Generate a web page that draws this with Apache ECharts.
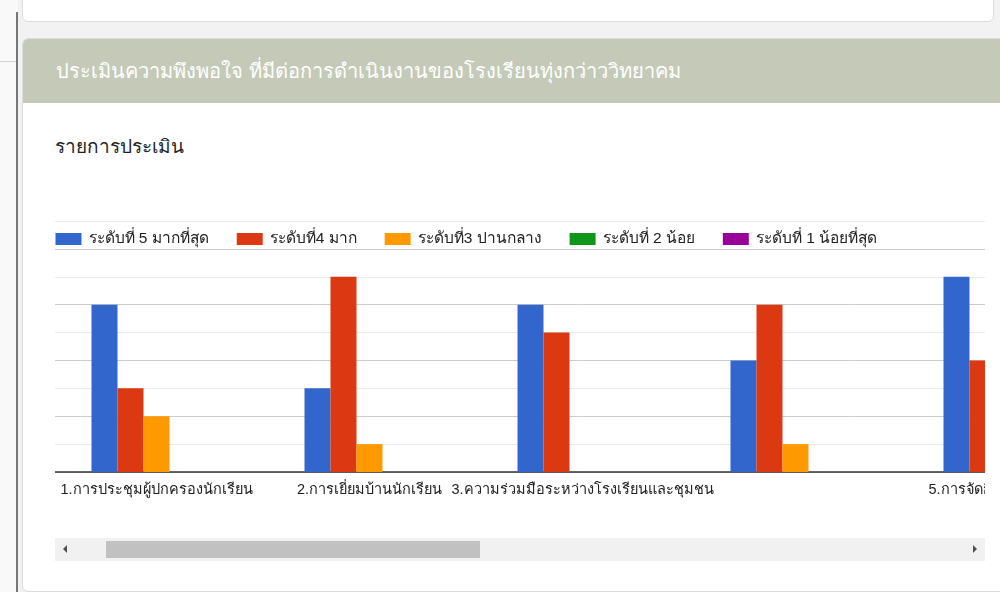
<!DOCTYPE html>
<html>
<head>
<meta charset="utf-8">
<script src="https://cdn.jsdelivr.net/npm/echarts@6/dist/echarts.min.js"></script>
<style>
  html, body { margin: 0; padding: 0; width: 1000px; height: 592px; overflow: hidden; background: #f9f9f9; font-family: Tahoma, Arial, sans-serif; }
  .vline { position: absolute; left: 16px; top: 12px; width: 2px; height: 580px; background: #777; }
  .hline { position: absolute; left: 0; top: 61px; width: 16px; height: 1px; background: #d0d0d0; }
  .bg { position: absolute; left: 18px; top: 0; width: 982px; height: 592px; background: #f2f2f2; }
  .topcard { position: absolute; left: 22px; top: -10px; width: 970px; height: 30px; background: #fff; border: 1px solid #ddd; border-radius: 0 0 6px 6px; }
  .panel { position: absolute; left: 22px; top: 38px; width: 990px; height: 552px; background: #fff; border: 1px solid #dcdcdc; border-radius: 6px; overflow: hidden; }
  .head { height: 64px; background: #c5cab8; color: #fff; font-size: 20px; line-height: 64px; padding-left: 33px; }
  .sub { position: absolute; left: 55px; top: 131px; font-size: 19px; color: #222; }
  .wrap { position: absolute; left: 55px; top: 200px; width: 930px; height: 310px; overflow: hidden; background: #fff; }
  #chart { position: absolute; left: -5.5px; top: 0; width: 1065px; height: 310px; }
  .track { position: absolute; left: 55px; top: 538px; width: 930px; height: 23px; background: #f1f1f1; }
  .thumb { position: absolute; left: 51px; top: 3px; width: 374px; height: 17px; background: #c1c1c1; }
  .arrl { position: absolute; left: 8px; top: 7px; width: 0; height: 0; border-top: 4px solid transparent; border-bottom: 4px solid transparent; border-right: 4px solid #505050; }
  .arrr { position: absolute; right: 8px; top: 7px; width: 0; height: 0; border-top: 4px solid transparent; border-bottom: 4px solid transparent; border-left: 4px solid #505050; }
</style>
</head>
<body>
<div class="bg"></div>
<div class="vline"></div>
<div class="hline"></div>
<div class="topcard"></div>
<div class="panel">
  <div class="head">ประเมินความพึงพอใจ ที่มีต่อการดำเนินงานของโรงเรียนทุ่งกว่าววิทยาคม</div>
</div>
<div class="sub">รายการประเมิน</div>
<div class="wrap"><div id="chart"></div></div>
<div class="track"><div class="arrl"></div><div class="thumb"></div><div class="arrr"></div></div>
<script>
// รายการประเมิน
const categories = [
    '1.การประชุมผู้ปกครองนักเรียน',
    '2.การเยี่ยมบ้านนักเรียน',
    '3.ความร่วมมือระหว่างโรงเรียนและชุมชน',
    '4.การประชาสัมพันธ์ของโรงเรียน',
    '5.การจัดกิจกรรมโรงเรียน'
];
const seriesNames = ['ระดับที่ 5 มากที่สุด', 'ระดับที่4 มาก', 'ระดับที่3 ปานกลาง', 'ระดับที่ 2 น้อย', 'ระดับที่ 1 น้อยที่สุด'];
const level5 = [6, 3, 6, 4, 7];
const level4 = [3, 7, 5, 6, 4];
const level3 = [2, 1, 0, 1, 0];
const level2 = [0, 0, 0, 0, 0];
const level1 = [0, 0, 0, 0, 0];
const colors = ['#3366cc', '#dc3912', '#ff9900', '#109618', '#990099'];

const chart = echarts.init(document.getElementById('chart'));
const values = [level5, level4, level3, level2, level1];

const option = {
    animation: false,
    color: colors,
    legend: {
        left: 5.5,
        top: 31,
        padding: 0,
        itemWidth: 26,
        itemHeight: 12,
        itemGap: 28,
        icon: 'rect',
        textStyle: { fontSize: 15.5, color: '#222', padding: [0, 0, 0, 2], fontFamily: 'Arial, Tahoma, sans-serif' },
        data: seriesNames
    },
    grid: { left: 0, right: 0, top: 21, bottom: 38 },
    xAxis: {
        type: 'category',
        data: categories,
        axisTick: { show: false },
        axisLine: { lineStyle: { color: '#333', width: 1.5 } },
        axisLabel: {
            interval: (i) => i !== 3,
            color: '#222',
            fontSize: 14.5,
            margin: 10,
            fontFamily: 'Tahoma, Arial, sans-serif'
        }
    },
    yAxis: {
        type: 'value',
        min: 0,
        max: 9,
        interval: 1,
        axisLabel: { show: false },
        axisLine: { show: false },
        axisTick: { show: false },
        splitLine: { lineStyle: { color: ['#cccccc', '#ebebeb'], width: 1 } }
    },
    series: seriesNames.map((name, i) => ({
        name,
        type: 'bar',
        data: values[i],
        barWidth: 26,
        barGap: '0%'
    }))
};
chart.setOption(option);
</script>
</body>
</html>
